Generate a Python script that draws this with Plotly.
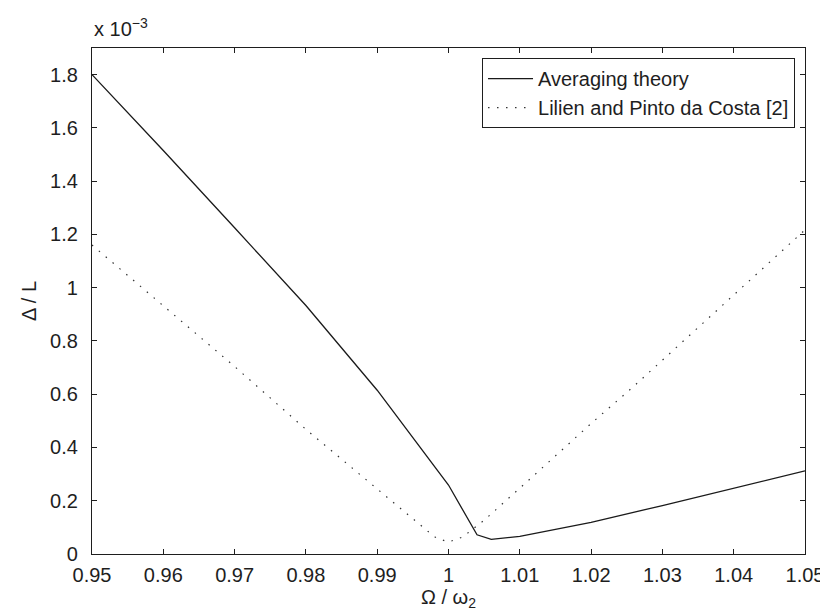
import plotly.graph_objects as go

# Omega / omega_2
avg_x = [0.95, 0.96, 0.97, 0.98, 0.99, 1.0, 1.004, 1.006, 1.01, 1.02, 1.03, 1.04, 1.05]
# Delta / L  (x 10^-3)
avg_y = [1.80, 1.515, 1.225, 0.933, 0.615, 0.259, 0.072, 0.055, 0.066, 0.119, 0.182, 0.247, 0.312]

lp_x = [0.95, 0.96, 0.97, 0.98, 0.99, 0.995, 0.9973, 0.9983, 1.0, 1.002, 1.004, 1.005,
        1.01, 1.02, 1.026, 1.03, 1.038, 1.04, 1.05]
lp_y = [1.16, 0.932, 0.704, 0.468, 0.244, 0.13, 0.081, 0.060, 0.045, 0.064, 0.105, 0.127,
        0.247, 0.49, 0.63, 0.728, 0.921, 0.97, 1.217]

x_ticks = [0.95, 0.96, 0.97, 0.98, 0.99, 1.0, 1.01, 1.02, 1.03, 1.04, 1.05]
y_ticks = [0, 0.2, 0.4, 0.6, 0.8, 1.0, 1.2, 1.4, 1.6, 1.8]

FONT = "Liberation Sans, Arial, sans-serif"
INK = "#1e1e1e"

fig = go.Figure()
fig.add_trace(go.Scatter(x=avg_x, y=avg_y, mode="lines", name="Averaging theory",
                         line=dict(color="#1a1a1a", width=1.3)))
fig.add_trace(go.Scatter(x=lp_x, y=lp_y, mode="lines", name="Lilien and Pinto da Costa [2]",
                         line=dict(color="#333333", width=1.2, dash="1.5px,7.5px")))

axis_common = dict(showgrid=False, zeroline=False, showline=True, linecolor=INK, linewidth=1.3,
                   mirror="ticks", ticks="inside", ticklen=5, tickcolor=INK, tickwidth=1,
                   tickfont=dict(family=FONT, size=20, color=INK))

fig.update_xaxes(range=[0.95, 1.05], tickvals=x_ticks,
                 ticktext=[("%g" % v) for v in x_ticks], ticklabelstandoff=3,
                 title=dict(text="Ω / ω<sub>2</sub>", font=dict(family=FONT, size=20, color=INK), standoff=4),
                 **axis_common)
fig.update_yaxes(range=[0, 1.9], tickvals=y_ticks,
                 ticktext=[("%g" % v) for v in y_ticks], ticklabelstandoff=9,
                 title=dict(text="Δ / L", font=dict(family=FONT, size=20, color=INK), standoff=8),
                 **axis_common)

fig.add_annotation(text="x 10<sup>−3</sup>", xref="paper", yref="paper", x=0, y=1.012,
                   xanchor="left", yanchor="bottom", showarrow=False,
                   font=dict(family=FONT, size=20, color=INK))

fig.update_layout(
    width=828, height=611,
    margin=dict(l=84, r=21, t=40, b=65),
    paper_bgcolor="white", plot_bgcolor="white",
    font=dict(family=FONT, size=20, color=INK),
    legend=dict(x=0.986, y=0.98, xanchor="right", yanchor="top",
                bgcolor="white", bordercolor=INK, borderwidth=1,
                font=dict(family=FONT, size=20, color=INK),
                itemwidth=45, tracegroupgap=0),
    showlegend=True,
)

fig.write_html("out.html")
